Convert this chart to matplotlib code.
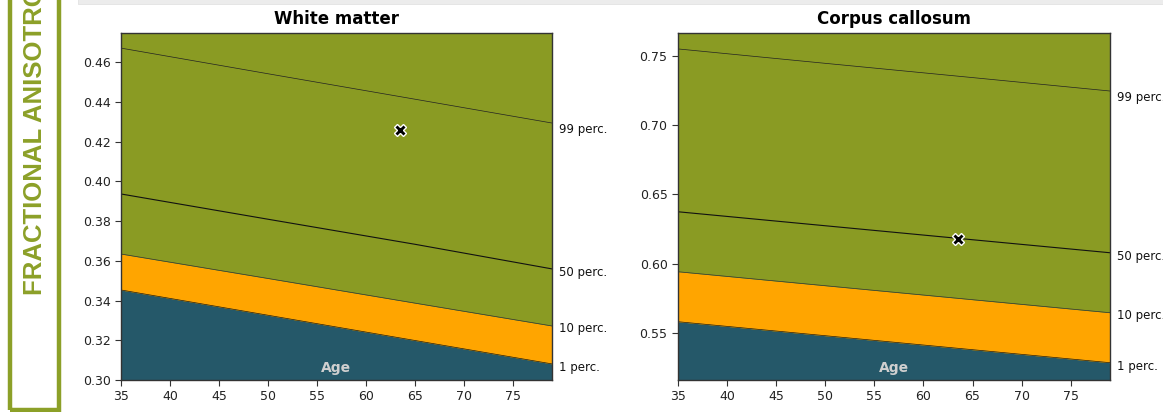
import matplotlib.pyplot as plt
from matplotlib.patches import Rectangle

# --------------------------------------
# data

ages = [35, 50, 65, 79]

wm_p1 = [0.3453, 0.3326, 0.3199, 0.3081]
wm_p10 = [0.3634, 0.3511, 0.3387, 0.3272]
wm_p50 = [0.3936, 0.3809, 0.3683, 0.3559]
wm_p99 = [0.4670, 0.4541, 0.4413, 0.4293]

cc_p1 = [0.5581, 0.5480, 0.5379, 0.5285]
cc_p10 = [0.5942, 0.5841, 0.5740, 0.5646]
cc_p50 = [0.6375, 0.6274, 0.6173, 0.6079]
cc_p99 = [0.7551, 0.7447, 0.7344, 0.7247]

subject_age = 63.5
wm_subject = 0.4257
cc_subject = 0.6180

titles = ["White matter", "Corpus callosum"]
perc_labels = ["1 perc.", "10 perc.", "50 perc.", "99 perc."]
x_ticks = [35, 40, 45, 50, 55, 60, 65, 70, 75]
wm_yticks = [0.30, 0.32, 0.34, 0.36, 0.38, 0.40, 0.42, 0.44, 0.46]
cc_yticks = [0.55, 0.60, 0.65, 0.70, 0.75]

# --------------------------------------

olive = "#8a9b23"
orange = "#ffa500"
teal = "#255869"
green = "#8ca028"

W, H = 1163, 412
fig = plt.figure(figsize=(W / 100, H / 100), dpi=100, facecolor="white")

# left side banner box (its label runs off the top, as in the report page)
fig.patches.append(Rectangle((10 / W, 2 / H), 49 / W, 1.2, transform=fig.transFigure,
                             fill=False, edgecolor=green, linewidth=3.2, zorder=0))
fig.text(35 / W, 1 - 295 / H, "FRACTIONAL ANISOTROPY", rotation=90, ha="center", va="bottom",
         color=green, fontsize=18.5, fontweight="bold", family="Liberation Sans")

# top grey strip
fig.patches.append(Rectangle((78 / W, 1 - 4 / H), 1.0, 0.05, transform=fig.transFigure,
                             facecolor="#ececec", edgecolor="#e2e2e2", linewidth=0.6, zorder=0))

label_shift = [-2.5, -2.0, -2.5, -5.0]


def panel(rect, title, p1, p10, p50, p99, subj, ylim, yticks, fmt):
    ax = fig.add_axes(rect)
    lo, hi = ylim
    ax.set_facecolor(olive)
    ax.fill_between(ages, lo, p1, color=teal, linewidth=0)
    ax.fill_between(ages, p1, p10, color=orange, linewidth=0)
    ax.fill_between(ages, p10, hi, color=olive, linewidth=0)
    ax.plot(ages, p1, color="#1a1a1a", lw=0.5)
    ax.plot(ages, p10, color="#333333", lw=0.5)
    ax.plot(ages, p50, color="#111111", lw=0.8)
    ax.plot(ages, p99, color="#222222", lw=0.5)
    ax.plot([subject_age], [subj], marker="X", markersize=9, color="black",
            markeredgecolor="white", markeredgewidth=1.0, zorder=5)

    for vals, lab, dy in zip([p1, p10, p50, p99], perc_labels, label_shift):
        ax.annotate(lab, xy=(1, vals[-1]), xycoords=("axes fraction", "data"),
                    xytext=(5, dy), textcoords="offset points",
                    va="center", ha="left", fontsize=8.5, color="#111111")

    ax.text(0.5, 0.035, "Age", transform=ax.transAxes, ha="center", va="center",
            color="#cfcfcf", fontsize=10, fontweight="bold")

    ax.set_xlim(35, 79)
    ax.set_ylim(lo, hi)
    ax.set_xticks(x_ticks)
    ax.set_yticks(yticks)
    ax.set_yticklabels([fmt.format(v) for v in yticks])
    ax.tick_params(labelsize=9, length=4, color="#333333", labelcolor="#222222")
    for s in ax.spines.values():
        s.set_color("#333333")
        s.set_linewidth(1.0)
    ax.set_title(title, fontsize=12, fontweight="bold", pad=6.5)
    return ax


panel([121 / W, 1 - 380 / H, 431 / W, 347 / H], titles[0],
      wm_p1, wm_p10, wm_p50, wm_p99, wm_subject, (0.30, 0.4746), wm_yticks, "{:.2f}")
panel([678 / W, 1 - 380 / H, 432 / W, 347 / H], titles[1],
      cc_p1, cc_p10, cc_p50, cc_p99, cc_subject, (0.516, 0.7666), cc_yticks, "{:.2f}")

fig.savefig("out.png", dpi=100)
